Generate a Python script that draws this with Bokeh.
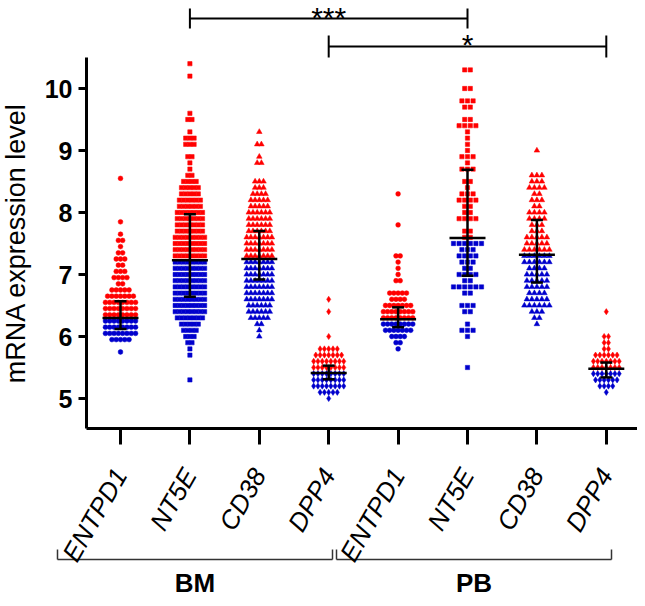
import math
from bokeh.plotting import figure
from bokeh.models import Range1d, FixedTicker, ColumnDataSource
from bokeh.core.properties import value
from bokeh.embed import file_html
from bokeh.resources import INLINE

genes = ["ENTPD1", "NT5E", "CD38", "DPP4", "ENTPD1", "NT5E", "CD38", "DPP4"]
markers = ["circle", "square", "triangle", "diamond"] * 2
tissues = ["BM", "PB"]

# each swarm: lowest value and number of dots per 0.1 step
bm_entpd1_start = 5.75
bm_entpd1_counts = [1, 0, 5, 8, 8, 8, 8, 8, 8, 7, 5, 2, 4, 3, 2, 3, 2, 1, 2, 1,
                    0, 1, 0, 0, 0, 0, 0, 0, 1]
bm_nt5e_start = 5.3
bm_nt5e_counts = [1, 0, 0, 0, 1, 1, 2, 3, 4, 5, 7, 8, 8, 8, 8, 8, 8, 8, 8, 8,
                  8, 8, 8, 8, 7, 7, 7, 7, 6, 6, 5, 5, 4, 2, 1, 1, 2, 0, 3, 3,
                  1, 0, 2, 1, 0, 0, 0, 0, 0, 1, 0, 1]
bm_cd38_start = 6.0
bm_cd38_counts = [1, 1, 2, 5, 6, 6, 7, 7, 7, 7, 7, 7, 7, 7, 7, 7, 7, 6, 6, 6,
                  6, 5, 5, 4, 3, 3, 0, 0, 2, 1, 0, 2, 0, 1]
bm_dpp4_start = 5.0
bm_dpp4_counts = [1, 5, 8, 8, 8, 8, 8, 7, 5, 0, 1, 0, 0, 0, 1, 0, 1]
pb_entpd1_start = 5.8
pb_entpd1_counts = [1, 2, 4, 7, 8, 8, 8, 7, 4, 5, 0, 2, 1, 1, 1, 2, 0, 0, 0, 0,
                    1, 0, 0, 0, 0, 1]
pb_nt5e_start = 5.5
pb_nt5e_counts = [1, 0, 0, 0, 0, 1, 3, 1, 0, 2, 3, 0, 2, 6, 2, 4, 2, 3, 4, 3,
                  6, 2, 2, 0, 4, 2, 2, 4, 3, 1, 2, 0, 3, 1, 3, 1, 1, 1, 1, 4,
                  2, 0, 2, 3, 0, 2, 0, 0, 2]
pb_cd38_start = 6.2
pb_cd38_counts = [1, 2, 3, 6, 5, 4, 5, 5, 5, 4, 6, 6, 6, 5, 5, 3, 3, 4, 4, 2,
                  3, 2, 4, 3, 3, 0, 0, 0, 1]
pb_dpp4_start = 5.1
pb_dpp4_counts = [1, 4, 6, 7, 7, 7, 6, 2, 2, 2, 0, 0, 0, 1]

medians = [6.30, 7.23, 7.25, 5.41, 6.28, 7.59, 7.32, 5.48]
q1 = [6.12, 6.64, 6.92, 5.31, 6.15, 6.98, 6.87, 5.34]
q3 = [6.57, 7.97, 7.70, 5.53, 6.47, 8.69, 7.88, 5.58]

starts = [bm_entpd1_start, bm_nt5e_start, bm_cd38_start, bm_dpp4_start,
          pb_entpd1_start, pb_nt5e_start, pb_cd38_start, pb_dpp4_start]
counts = [bm_entpd1_counts, bm_nt5e_counts, bm_cd38_counts, bm_dpp4_counts,
          pb_entpd1_counts, pb_nt5e_counts, pb_cd38_counts, pb_dpp4_counts]

RED = "#ff0000"
BLUE = "#0000cc"
FONT = "Liberation Sans"

W, H = 637, 598
px = 69.4      # pixels per category
py = 62.0      # pixels per expression unit
x0 = -120 / px
y1 = 10 + 88 / py
xlo = (86 - 120) / px          # where the y axis sits
ylo = 10 - (428 - 88) / py     # where the x axis sits
spacing = [4.3, 4.2, 4.2, 4.3, 4.2, 5.6, 5.0, 4.3]
sizes = {"circle": 4.8, "square": 4.3, "triangle": 5.6, "diamond": 6.2}

p = figure(width=W, height=H, x_range=Range1d(x0, x0 + W / px),
           y_range=Range1d(y1 - H / py, y1),
           output_backend="svg", toolbar_location=None,
           min_border=0, min_border_left=0, min_border_right=0, min_border_top=0,
           min_border_bottom=0)
p.outline_line_color = None
p.grid.visible = False

# swarms
for i in range(8):
    xs, ys, cs = [], [], []
    for k, n in enumerate(counts[i]):
        v = round(starts[i] + 0.1 * k, 3)
        for j in range(n):
            xs.append(i + (j - (n - 1) / 2) * spacing[i] / px)
            ys.append(v)
            cs.append(RED if v > medians[i] else BLUE)
    src = ColumnDataSource(dict(x=xs, y=ys, c=cs))
    p.scatter("x", "y", source=src, marker=markers[i], size=sizes[markers[i]],
              fill_color="c", line_color="c", line_width=0.5)

# median and interquartile range
idx = list(range(8))
half = 18 / px
cap = 6 / px
p.segment(x0=[i - half for i in idx], x1=[i + half for i in idx], y0=medians, y1=medians,
          line_color="black", line_width=2.5)
p.segment(x0=idx, x1=idx, y0=q1, y1=q3, line_color="black", line_width=2.5)
p.segment(x0=[i - cap for i in idx], x1=[i + cap for i in idx], y0=q1, y1=q1,
          line_color="black", line_width=2.5)
p.segment(x0=[i - cap for i in idx], x1=[i + cap for i in idx], y0=q3, y1=q3,
          line_color="black", line_width=2.5)

# axes, pinned inside the frame
yax = p.yaxis[0]
yax.fixed_location = xlo
yax.bounds = (ylo, 10.5)
yax.ticker = FixedTicker(ticks=[5, 6, 7, 8, 9, 10])
yax.axis_line_width = 3
yax.major_tick_line_width = 3
yax.major_tick_out = 8
yax.major_tick_in = 0
yax.minor_tick_line_color = None
yax.major_label_standoff = 6
yax.major_label_text_font = FONT
yax.major_label_text_font_style = "bold"
yax.major_label_text_font_size = "25px"
yax.major_label_text_color = "black"
yax.axis_label = "mRNA expression level"
yax.axis_label_text_font = FONT
yax.axis_label_text_font_style = "normal"
yax.axis_label_text_font_size = "27px"
yax.axis_label_text_color = "black"
yax.axis_label_standoff = 11

xax = p.xaxis[0]
xax.fixed_location = ylo
xax.bounds = (xlo, x0 + W / px)
xax.ticker = FixedTicker(ticks=idx)
xax.major_label_overrides = {i: g for i, g in enumerate(genes)}
xax.axis_line_width = 3
xax.major_tick_line_width = 3
xax.major_tick_out = 16
xax.major_tick_in = 0
xax.minor_tick_line_color = None
xax.major_label_orientation = math.pi / 3
xax.major_label_standoff = 26
xax.major_label_text_font = FONT
xax.major_label_text_font_style = "italic"
xax.major_label_text_font_size = "26px"
xax.major_label_text_color = "black"


def yv(ypx):
    return 10 - (ypx - 88) / py


def xv(xpx):
    return (xpx - 120) / px


# significance bars
sx0 = [1, 1, 5, 3, 3, 7]
sx1 = [5, 1, 5, 7, 3, 7]
sy0 = [yv(18), yv(8), yv(8), yv(46), yv(35), yv(35)]
sy1 = [yv(18), yv(28), yv(28), yv(46), yv(57), yv(57)]
p.segment(x0=sx0, x1=sx1, y0=sy0, y1=sy1, line_color="black", line_width=2)
p.text(x=[3, 5], y=[yv(0.5), yv(27.5)], text=["***", "*"], text_font=value(FONT),
       text_font_size="30px", text_align="center", text_baseline="top",
       text_color="black")

# tissue brackets
bx = [(xv(57), xv(332)), (xv(336), xv(611))]
for (a, b) in bx:
    p.segment(x0=[a, a, b], x1=[b, a, b], y0=[yv(559)] * 3,
              y1=[yv(559), yv(549), yv(549)], line_color="#333333", line_width=1.5)
p.text(x=[(a + b) / 2 for a, b in bx], y=[yv(582)] * 2, text=tissues,
       text_font=value(FONT), text_font_size="26px", text_font_style="bold",
       text_align="center", text_baseline="alphabetic", text_color="black")

open("out.html", "w").write(file_html(p, INLINE))
